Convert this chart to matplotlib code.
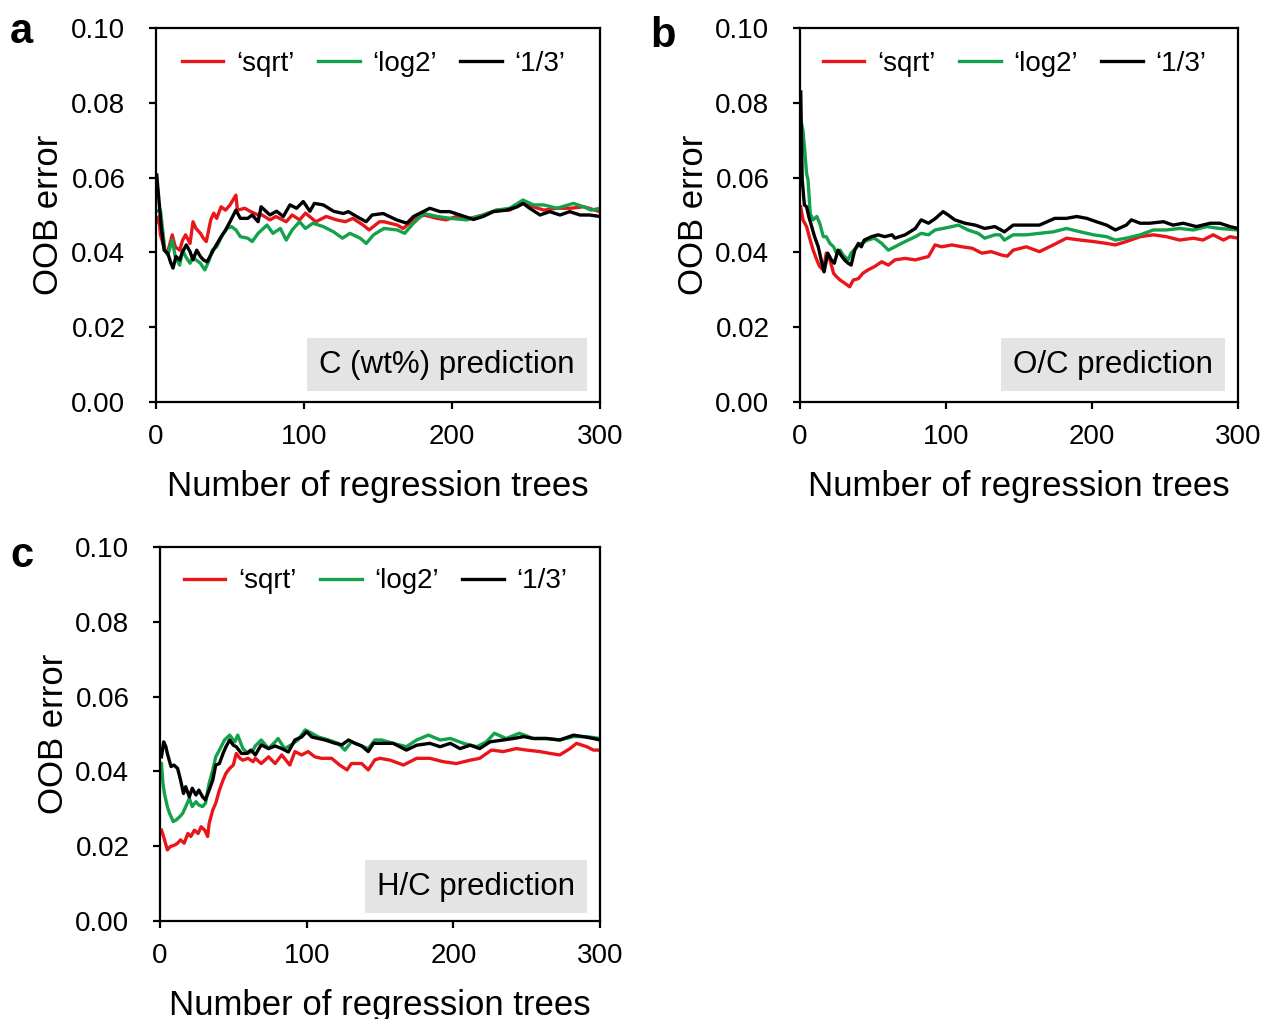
import numpy as np
from matplotlib import pyplot as plt

plt.rcParams['font.family'] = ['Liberation Sans', 'DejaVu Sans']

red = '#e8161b'
green = '#13a24b'
black = '#000000'

# panel a: C (wt%)
a_sqrt_x = [0, 2, 3, 6, 8, 11, 13, 16, 18, 20, 23, 25, 27, 30, 32, 34, 37, 39, 41, 44, 47, 50, 54, 55, 60, 64, 69, 70, 77, 81, 88, 92, 97, 101, 108, 115, 122, 128, 133, 140, 144, 151, 154, 163, 167, 174, 181, 190, 196, 203, 212, 221, 230, 239, 248, 255, 262, 271, 280, 289, 300]
a_sqrt_y = [.0478, .0496, .0447, .0406, .0402, .0447, .0415, .0406, .0433, .0447, .0424, .0482, .0464, .0451, .0438, .0429, .0487, .0505, .0491, .0522, .0513, .0527, .0553, .0513, .0518, .0509, .05, .0504, .0487, .0496, .0482, .05, .0487, .0505, .0482, .0496, .0487, .0482, .0491, .0473, .046, .0482, .0482, .0473, .0464, .0487, .05, .0491, .0487, .0496, .0491, .05, .0513, .0513, .0531, .0522, .0513, .0518, .0518, .0522, .0509]
a_log2_x = [0, 3, 6, 8, 11, 13, 16, 18, 20, 23, 25, 27, 30, 33, 36, 38, 41, 45, 48, 51, 54, 57, 62, 65, 69, 75, 79, 84, 88, 92, 97, 101, 106, 113, 120, 126, 131, 138, 142, 147, 154, 163, 168, 174, 181, 190, 199, 210, 221, 230, 239, 248, 255, 262, 271, 282, 289, 294, 300]
a_log2_y = [.051, .0513, .0406, .0393, .0433, .0389, .0366, .0406, .0389, .0371, .0389, .038, .0371, .0353, .038, .0406, .0415, .0447, .0464, .0469, .046, .0442, .0438, .0429, .0451, .0473, .0451, .0464, .0433, .046, .0482, .0464, .0478, .0469, .0455, .0438, .0451, .0438, .0424, .0447, .0464, .046, .0451, .0478, .0504, .0496, .0491, .0487, .05, .0513, .0518, .054, .0527, .0527, .0518, .0531, .0522, .0513, .0518]
a_third_x = [0.5, 2, 3.5, 5.5, 8, 10, 11.5, 13.5, 16, 18, 20.5, 23, 25, 27.5, 30, 32, 34.5, 37, 40, 44, 47, 50, 54, 57, 62, 65, 69, 71, 77, 81.5, 86, 90.5, 95, 99.5, 104, 107, 113, 120, 126.5, 130, 135.5, 142, 146, 153.5, 162.5, 169.5, 174, 180.5, 185, 192, 198.5, 205.5, 214.5, 221, 228, 237, 244, 248, 252.5, 259.5, 266, 273, 279.5, 286.5, 293, 300]
a_third_y = [.0607, .054, .0469, .0406, .0397, .0372, .0358, .0389, .038, .0402, .042, .0402, .038, .0406, .0389, .038, .0375, .0393, .0415, .0442, .046, .0482, .0513, .0491, .0491, .05, .0482, .0522, .05, .051, .0496, .0527, .0518, .0536, .051, .0531, .0527, .051, .0504, .0509, .0496, .0482, .05, .0504, .0487, .0478, .0496, .0509, .0518, .0509, .0509, .05, .0488, .0496, .0509, .0513, .0522, .0531, .0518, .05, .0509, .05, .0509, .05, .05, .0496]

# panel b: O/C
b_sqrt_x = [0.5, 2, 4.5, 7, 9, 11.5, 13.5, 16, 18, 20.5, 23, 25, 27.5, 30.5, 34, 36.5, 40, 43, 46.5, 51, 56, 60.5, 65, 72, 79, 83, 88, 92.5, 97, 104, 111, 118, 124.5, 131, 138, 142, 146, 155, 164, 173.5, 182.5, 192, 201, 210, 216, 223.5, 233, 242, 251, 260, 269.5, 276, 283, 290, 294.5, 300]
b_sqrt_y = [.0522, .0487, .0469, .0433, .0406, .038, .0362, .0353, .0398, .038, .0344, .0335, .0326, .0318, .0308, .0326, .033, .0344, .0353, .0362, .0375, .0366, .038, .0384, .038, .0384, .0389, .042, .0415, .042, .0415, .0411, .0398, .0402, .0393, .039, .0406, .0415, .0402, .042, .0438, .0433, .0429, .0424, .042, .0429, .0442, .0447, .0442, .0433, .0438, .0433, .0447, .0433, .0442, .0438]
b_log2_x = [0.5, 2, 3, 4.5, 5.5, 7, 9, 11.5, 13.5, 16, 18, 20.5, 23, 25, 27.5, 29.5, 33, 35, 39, 42, 46.5, 51, 56, 60.5, 65, 72, 79, 83, 88, 92.5, 98, 104, 108.5, 115, 122, 126.5, 133.5, 137, 140, 146, 155, 164, 173.5, 182.5, 192, 201, 210, 216, 223.5, 233, 242, 251, 260, 269.5, 278.5, 287.5, 300]
b_log2_y = [.0754, .0727, .0683, .0611, .0594, .0504, .0487, .0496, .0478, .0442, .0442, .0424, .0415, .0398, .0406, .0393, .038, .0398, .0415, .0424, .0433, .0438, .0424, .0406, .0415, .0429, .0442, .0451, .0447, .046, .0464, .0469, .0473, .046, .0451, .0438, .0447, .0447, .0433, .0447, .0447, .0451, .0455, .0464, .0455, .0447, .0442, .0433, .0438, .0447, .046, .046, .0464, .046, .0469, .0464, .046]
b_third_x = [0.5, 1.5, 3, 4.5, 6, 8, 10, 12.5, 14.5, 16.5, 19, 21.5, 23.5, 26, 28, 30.5, 33, 35, 37.5, 40, 42, 44, 49, 53.5, 58, 63, 65, 72, 79, 83, 88, 92.5, 98, 101.5, 106, 113, 120, 126.5, 133.5, 140, 146, 155, 164, 174.5, 182.5, 189.5, 196.5, 203, 210, 216, 223.5, 227, 233, 239.5, 249, 255.5, 262.5, 271.5, 281, 287.5, 294.5, 300]
b_third_y = [.0829, .0594, .0527, .0522, .0496, .0469, .0442, .0415, .038, .0348, .0398, .038, .0371, .0406, .0393, .038, .0371, .0366, .0406, .0424, .0415, .0433, .0442, .0447, .0442, .0447, .0438, .0447, .0464, .0487, .0478, .049, .0509, .05, .0487, .0478, .0473, .0464, .0469, .0455, .0473, .0473, .0473, .0491, .0491, .0496, .0491, .0482, .0473, .046, .0473, .0487, .0478, .0478, .0482, .0473, .0478, .0469, .0478, .0478, .0469, .0464]

# panel c: H/C
c_sqrt_x = [1, 2.5, 5, 7, 10, 12, 14, 16.5, 19, 21, 23.5, 26, 28, 30.5, 32.5, 33.5, 36, 38, 40.5, 43, 45, 47.5, 50, 52, 54.5, 56.5, 60, 63.5, 65, 69, 74, 78.5, 83, 88.5, 92, 96.5, 101, 105.5, 110, 117, 122.5, 127.5, 130.5, 137.5, 142, 146.5, 150, 157, 166, 175, 184, 193, 202, 211.5, 218, 226, 234, 243, 250, 259, 266, 272.5, 279.5, 284, 291, 295.5, 300]
c_sqrt_y = [.0243, .0225, .019, .0199, .0203, .0208, .0217, .0208, .0234, .0226, .0243, .0234, .0252, .0243, .0226, .0261, .0297, .0315, .035, .0377, .0395, .0408, .0417, .0448, .0435, .043, .0435, .0426, .0435, .0421, .0439, .0421, .0444, .0417, .0453, .0444, .0453, .0439, .0435, .0435, .0417, .0404, .0421, .0421, .0404, .0431, .0435, .043, .0417, .0435, .0435, .0426, .0421, .043, .0435, .0457, .0453, .0461, .0457, .0453, .0448, .0444, .0461, .0475, .0466, .0457, .0457]
c_log2_x = [1, 2, 3, 5, 6.5, 9, 11, 13.5, 15.5, 18, 20, 22, 24.5, 26.5, 29, 31, 33.5, 36, 38, 40.5, 44, 47.5, 51, 53, 56.5, 60, 63.5, 65, 69, 74, 78.5, 80.5, 85, 89.5, 94, 99, 103.5, 108, 115, 121.5, 126, 130.5, 137.5, 142, 146.5, 151, 159, 168, 175, 183, 191, 198, 207, 216, 222.5, 228, 236, 245, 254.5, 263.5, 272.5, 282, 291, 300]
c_log2_y = [.0421, .0368, .0341, .0306, .0288, .0266, .027, .0279, .0288, .031, .0328, .0306, .0319, .031, .0306, .0315, .0368, .0404, .0439, .0457, .0484, .0497, .0479, .0497, .0461, .0448, .0457, .0468, .0484, .0461, .0479, .0488, .0461, .0471, .0484, .0511, .0502, .0492, .0484, .0475, .0457, .0479, .0468, .0461, .0484, .0484, .0475, .0466, .0484, .0497, .0484, .0488, .0475, .0466, .0479, .0502, .0488, .0502, .0488, .0488, .0484, .0493, .0493, .0488]
c_third_x = [1, 2.5, 4, 5, 7.5, 9.5, 12, 14, 16, 17.5, 20, 22, 24.5, 26.5, 29, 31, 33.5, 36, 38, 40.5, 43, 45, 47.5, 50, 52, 55.5, 59, 62, 65, 69, 74, 78.5, 83, 87.5, 92, 96.5, 100, 103.5, 108, 112.5, 119.5, 124, 128.5, 133, 137.5, 142, 145.5, 151, 159, 168, 175, 184, 191, 198, 204.5, 211.5, 218, 225, 234, 241, 248, 254.5, 263.5, 272.5, 282, 288.5, 295.5, 300]
c_third_y = [.0439, .0479, .0466, .0448, .0413, .0417, .0408, .0377, .0341, .0359, .0332, .0355, .0337, .035, .0332, .0324, .035, .0377, .0417, .0421, .0448, .0466, .0484, .047, .0466, .0448, .0448, .0457, .0444, .0471, .0461, .0468, .0461, .0452, .0484, .0492, .0506, .0492, .0488, .0484, .0475, .0471, .0484, .0475, .0468, .0453, .0475, .0475, .0475, .0457, .047, .0475, .0466, .0475, .0461, .047, .0461, .0479, .0484, .0488, .0493, .0488, .0488, .0484, .0497, .0493, .0488, .0484]

legend_labels = ['\u2018sqrt\u2019', '\u2018log2\u2019', '\u20181/3\u2019']
yticks = [0, 0.02, 0.04, 0.06, 0.08, 0.10]
xticks = [0, 100, 200, 300]


def drawPanel(ax, series, boxText, legendY, boxY):
  for (x, y), c, lab in zip(series, [red, green, black], legend_labels):
    ax.plot(x, y, '-', color=c, lw=2.4, label=lab)

  ax.set_xlim(0, 300)
  ax.set_ylim(0, 0.10)
  ax.set_xticks(xticks)
  ax.set_yticks(yticks)
  ax.set_yticklabels(['%.2f' % v for v in yticks])
  ax.tick_params(direction='out', length=5, width=1.6, labelsize=20)
  ax.tick_params(axis='y', pad=17)
  ax.tick_params(axis='x', pad=11)
  for sp in ax.spines.values():
    sp.set_linewidth(1.6)

  ax.set_xlabel('Number of regression trees', fontsize=25, labelpad=14)
  ax.set_ylabel('OOB error', fontsize=25)
  ax.yaxis.set_label_coords(-0.205, 0.5)

  ax.legend(loc='center', bbox_to_anchor=(0.49, legendY), ncol=3, frameon=False,
            fontsize=20, handlelength=1.5, handletextpad=0.45, columnspacing=0.85)

  ax.text(0.943, boxY, boxText, transform=ax.transAxes, ha='right', va='center', fontsize=22.5,
          bbox=dict(boxstyle='square,pad=0.38', facecolor='#e4e4e4', edgecolor='none'))


fig = plt.figure(figsize=(12.63, 10.19), dpi=100)
W, H = 1263.0, 1019.0

axA = fig.add_axes([156 / W, 1 - 402 / H, 444 / W, 374 / H])
axB = fig.add_axes([800 / W, 1 - 402 / H, 438 / W, 374 / H])
axC = fig.add_axes([160 / W, 1 - 921 / H, 440 / W, 374 / H])

drawPanel(axA, [(a_sqrt_x, a_sqrt_y), (a_log2_x, a_log2_y), (a_third_x, a_third_y)], 'C (wt%) prediction', 0.905, 0.100)
drawPanel(axB, [(b_sqrt_x, b_sqrt_y), (b_log2_x, b_log2_y), (b_third_x, b_third_y)], 'O/C prediction', 0.905, 0.100)
drawPanel(axC, [(c_sqrt_x, c_sqrt_y), (c_log2_x, c_log2_y), (c_third_x, c_third_y)], 'H/C prediction', 0.908, 0.092)

fig.text(10 / W, 1 - 43 / H, 'a', fontsize=30, fontweight='bold', va='baseline')
fig.text(650 / W, 1 - 47 / H, 'b', fontsize=30, fontweight='bold', va='baseline')
fig.text(10 / W, 1 - 567 / H, 'c', fontsize=30, fontweight='bold', va='baseline')

fig.savefig('out.png', dpi=100)
